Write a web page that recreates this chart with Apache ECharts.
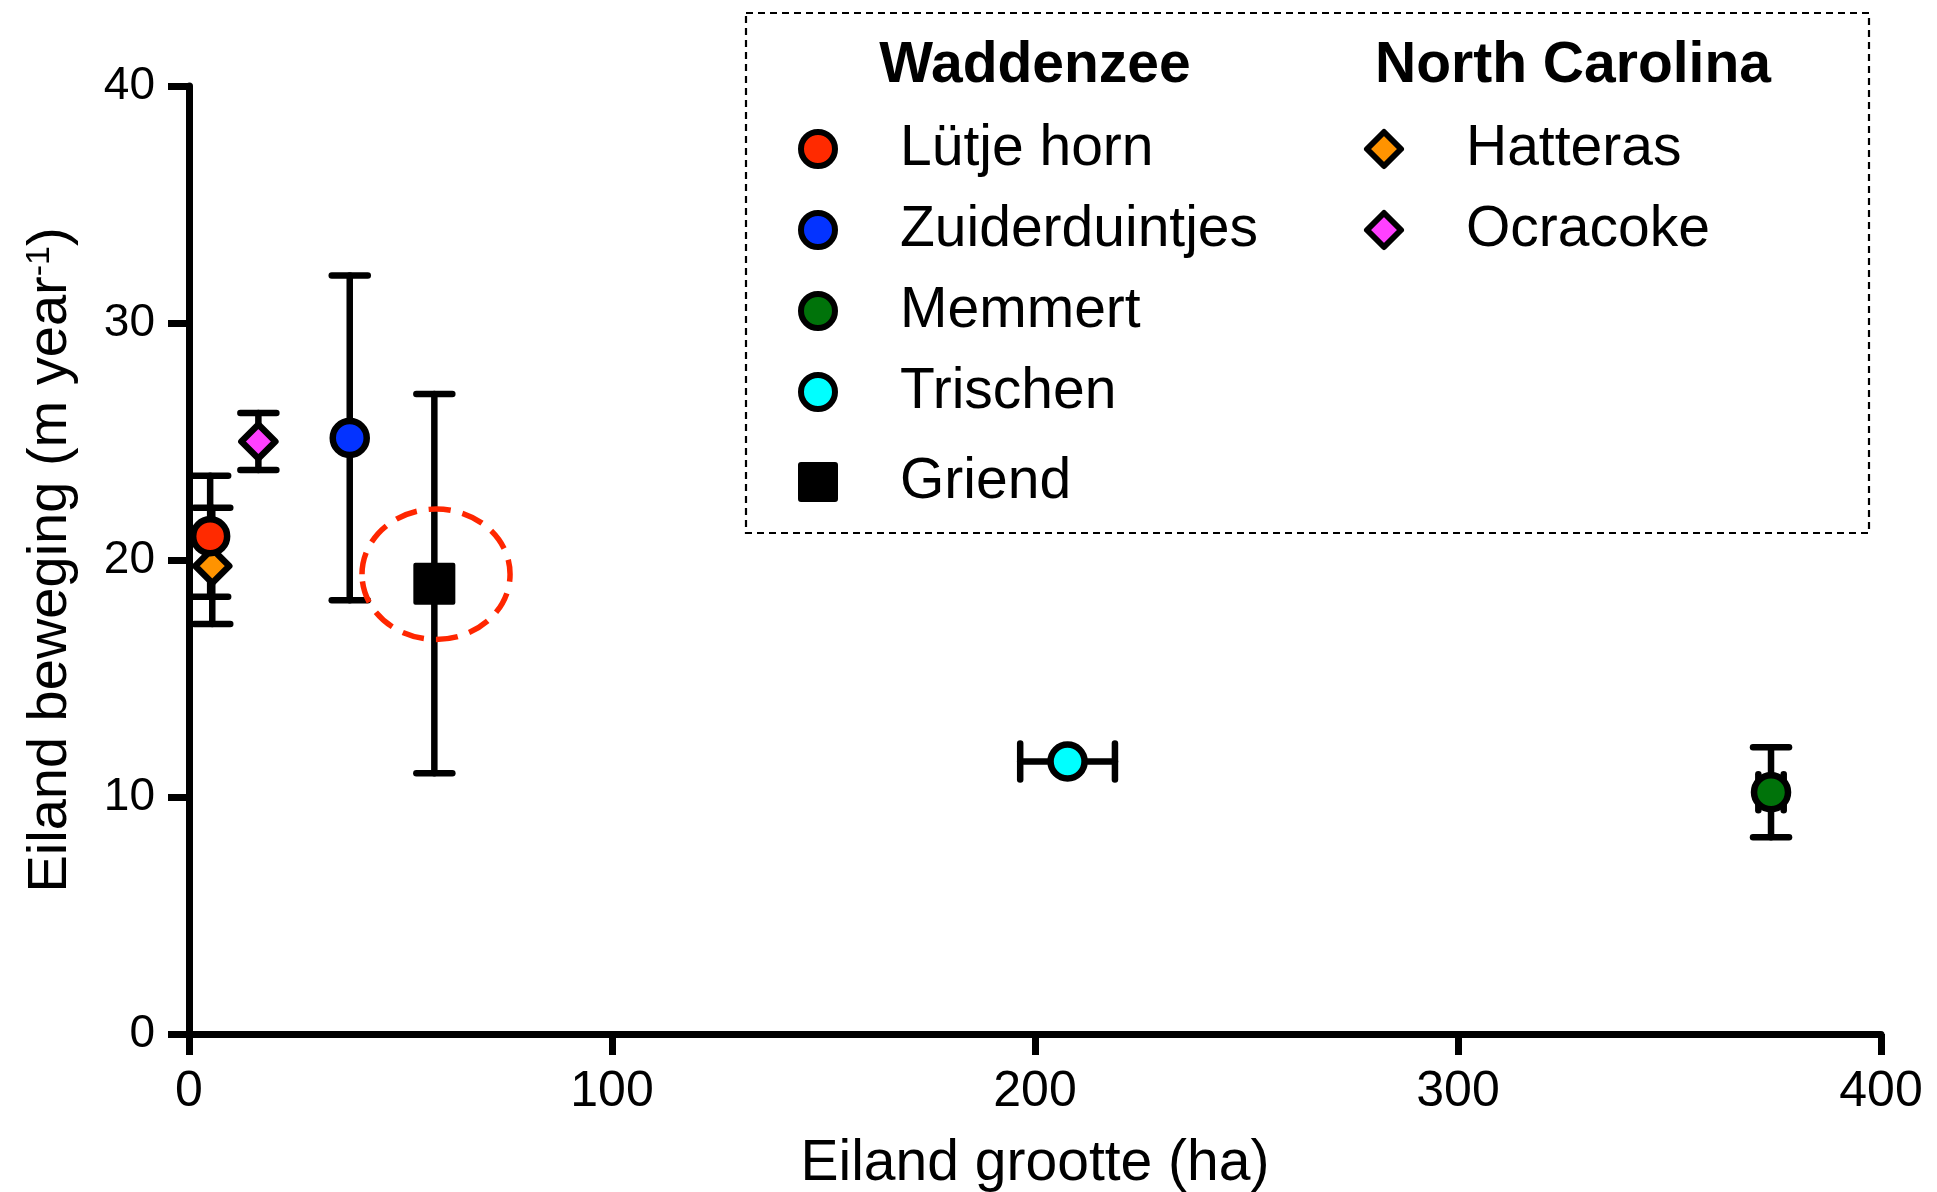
<!DOCTYPE html>
<html><head><meta charset="utf-8">
<script src="https://cdn.jsdelivr.net/npm/echarts@6/dist/echarts.min.js"></script>
<style>html,body{margin:0;padding:0;background:#fff}#c{width:1937px;height:1192px}</style>
</head><body><div id="c"></div>
<script>
// ---- data ----
const islands = ['Lütje horn', 'Zuiderduintjes', 'Memmert', 'Trischen', 'Griend', 'Hatteras', 'Ocracoke'];
const waddenzeeItems = ['Lütje horn', 'Zuiderduintjes', 'Memmert', 'Trischen'];
const waddenzeeExtra = ['Griend'];
const carolinaItems = ['Hatteras', 'Ocracoke'];
const groupTitles = ['Waddenzee', 'North Carolina'];
const sizeHa = [5, 38, 374, 207.7, 58, 5.5, 16.4];          // Eiland grootte (ha)
const movement = [21, 25.15, 10.2, 11.5, 19, 19.75, 25];    // Eiland beweging (m/yr)
const movementErr = [2.55, 6.85, 1.9, 0, 8, 2.45, 1.2];
const sizeErr = [0, 0, 3, 11.2, 0, 0, 0];
const colors = ['#FF2A00', '#0433FF', '#00730A', '#00FFFF', '#000000', '#FF9300', '#FF40FF'];
const symbols = ['circle', 'circle', 'circle', 'circle', 'rect', 'diamond', 'diamond'];
const drawOrder = [5, 6, 0, 1, 2, 3, 4];
const highlight = [[58.4, 19.4, 17.5, 2.75]]; // centre x, centre y, radius x, radius y
const xMin = 0, xMax = 400, xStep = 100;
const yMin = 0, yMax = 40, yStep = 10;

const FONT = 'Liberation Sans, Arial, Helvetica, sans-serif';

function errRender(params, api) {
  const x = api.value(0), y = api.value(1), ye = api.value(2), xe = api.value(3);
  const style = { stroke: '#000', lineWidth: 6.5, lineCap: 'round' };
  const cap = 18;
  const ch = [];
  if (ye > 0) {
    const t = api.coord([x, y + ye]), b = api.coord([x, y - ye]);
    ch.push({ type: 'line', shape: { x1: t[0], y1: t[1], x2: b[0], y2: b[1] }, style });
    ch.push({ type: 'line', shape: { x1: t[0] - cap, y1: t[1], x2: t[0] + cap, y2: t[1] }, style });
    ch.push({ type: 'line', shape: { x1: b[0] - cap, y1: b[1], x2: b[0] + cap, y2: b[1] }, style });
  }
  if (xe > 0) {
    const l = api.coord([x - xe, y]), r = api.coord([x + xe, y]);
    ch.push({ type: 'line', shape: { x1: l[0], y1: l[1], x2: r[0], y2: r[1] }, style });
    ch.push({ type: 'line', shape: { x1: l[0], y1: l[1] - cap, x2: l[0], y2: l[1] + cap }, style });
    ch.push({ type: 'line', shape: { x1: r[0], y1: r[1] - cap, x2: r[0], y2: r[1] + cap }, style });
  }
  return { type: 'group', children: ch };
}

const series = [];
drawOrder.forEach(i => {
  series.push({
    type: 'custom', name: 'err_' + i, renderItem: errRender, silent: true,
    data: [[sizeHa[i], movement[i], movementErr[i], sizeErr[i]]],
    encode: { x: 0, y: 1 }, z: 2
  });
  const isRect = symbols[i] === 'rect';
  series.push({
    type: 'scatter', name: islands[i], symbol: symbols[i],
    symbolSize: isRect ? 38 : 34,
    data: [[sizeHa[i], movement[i]]],
    itemStyle: { color: colors[i], borderColor: '#000', borderWidth: isRect ? 4 : 6.5, borderJoin: 'round', opacity: 1 },
    emphasis: { disabled: true }, z: 2
  });
});
series.push({
  type: 'custom', name: 'highlight', silent: true, z: 3,
  data: highlight, encode: { x: 0, y: 1 },
  renderItem: function (params, api) {
    const c = api.coord([api.value(0), api.value(1)]);
    const s = api.size([api.value(2), api.value(3)]);
    return { type: 'ellipse', shape: { cx: c[0], cy: c[1], rx: s[0], ry: s[1] },
      style: { fill: 'none', stroke: '#FF2600', lineWidth: 5.5, lineDash: [22, 12] } };
  }
});

const legendCommon = {
  orient: 'vertical', itemWidth: 34, itemHeight: 34, itemGap: 21, padding: 0,
  selectedMode: false,
  textStyle: { fontSize: 57, fontFamily: FONT, color: '#000', lineHeight: 60, padding: [0, 0, 0, 60] },
  itemStyle: { borderWidth: 6, borderColor: '#000' }
};

const chart = echarts.init(document.getElementById('c'), null, { renderer: 'canvas' });
chart.setOption({
  animation: false,
  backgroundColor: '#fff',
  grid: { left: 189, right: 56, top: 86, bottom: 158, containLabel: false, outerBoundsMode: 'none' },
  xAxis: {
    type: 'value', min: xMin, max: xMax, interval: xStep,
    axisLine: { show: true, onZero: false, lineStyle: { color: '#000', width: 7 } },
    axisTick: { show: true, length: 21, lineStyle: { color: '#000', width: 7 } },
    axisLabel: { fontSize: 50, fontFamily: FONT, color: '#000', margin: 33 },
    splitLine: { show: false },
    name: 'Eiland grootte (ha)', nameLocation: 'middle', nameGap: 102,
    nameTextStyle: { fontSize: 57, fontFamily: FONT, color: '#000' }
  },
  yAxis: {
    type: 'value', min: yMin, max: yMax, interval: yStep,
    axisLine: { show: true, onZero: false, lineStyle: { color: '#000', width: 7 } },
    axisTick: { show: true, length: 21, lineStyle: { color: '#000', width: 7 } },
    axisLabel: { fontSize: 46, fontFamily: FONT, color: '#000', margin: 34 },
    splitLine: { show: false },
    name: 'Eiland beweging (m year{sup|-1})', nameLocation: 'middle', nameGap: 110,
    nameTextStyle: { fontSize: 56, fontFamily: FONT, color: '#000',
      rich: { sup: { fontSize: 34, fontFamily: FONT, color: '#000', verticalAlign: 'top' } } }
  },
  legend: [
    Object.assign({}, legendCommon, { left: 798, top: 119, data: waddenzeeItems }),
    Object.assign({}, legendCommon, { left: 798, top: 452, data: waddenzeeExtra }),
    Object.assign({}, legendCommon, { left: 1364, top: 119, data: carolinaItems })
  ],
  graphic: [
    { type: 'rect', shape: { x: 746, y: 13, width: 1123, height: 520 },
      style: { fill: 'none', stroke: '#000', lineWidth: 2.2, lineDash: [7, 5] }, z: 0 },
    { type: 'text', x: 1035, y: 66, style: { text: groupTitles[0], fontSize: 57, fontWeight: 'bold', fontFamily: FONT, fill: '#000', align: 'center', verticalAlign: 'middle' } },
    { type: 'text', x: 1573, y: 66, style: { text: groupTitles[1], fontSize: 57, fontWeight: 'bold', fontFamily: FONT, fill: '#000', align: 'center', verticalAlign: 'middle' } }
  ],
  series: series
});
</script>
</body></html>
